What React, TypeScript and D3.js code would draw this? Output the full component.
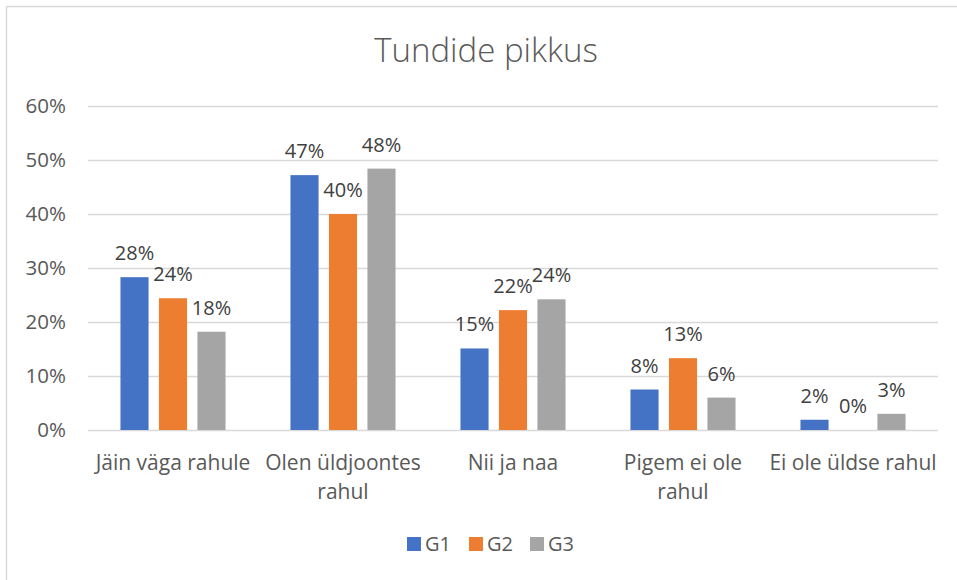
import React from "react";
import * as d3 from "d3";

const categories = ["Jäin väga rahule", "Olen üldjoontes rahul", "Nii ja naa", "Pigem ei ole rahul", "Ei ole üldse rahul"];
const categoryLines = [["Jäin väga rahule"], ["Olen üldjoontes", "rahul"], ["Nii ja naa"], ["Pigem ei ole", "rahul"], ["Ei ole üldse rahul"]];
const seriesNames = ["G1", "G2", "G3"];
const g1 = [28.3, 47.2, 15.1, 7.5, 1.9];
const g2 = [24.4, 40.0, 22.2, 13.3, 0];
const g3 = [18.2, 48.4, 24.2, 6.0, 3.0];
const colors = ["#4472C4", "#ED7D31", "#A5A5A5"];
const yTicks = [0, 10, 20, 30, 40, 50, 60];

const W = 957, H = 580;
const FONT = "'Open Sans', Lato, sans-serif";

export default function App() {
  const series = [g1, g2, g3];
  const x0 = d3.scaleBand<string>().domain(categories).range([88, 938]).paddingInner(0.382).paddingOuter(0.191);
  const x1 = d3.scaleBand<string>().domain(seriesNames).range([0, x0.bandwidth()]).paddingInner(0.27);
  const y = d3.scaleLinear().domain([0, 60]).range([430, 106]);

  return (
    <svg width={W} height={H} style={{ position: "absolute", left: 0, top: 0, background: "#fff" }} fontFamily={FONT}>
      <rect x={0} y={0} width={W} height={H} fill="#fff" />
      <line x1={6.5} y1={6.5} x2={W} y2={6.5} stroke="#d9d9d9" strokeWidth={1.5} />
      <line x1={6.5} y1={6.5} x2={6.5} y2={H} stroke="#d9d9d9" strokeWidth={1.5} />
      <text x={486} y={62} textAnchor="middle" fontSize={33} fill="#595959" fontWeight={300}>Tundide pikkus</text>
      {yTicks.map((t) => (
        <g key={t}>
          <line x1={88} x2={938} y1={y(t) + 0.5} y2={y(t) + 0.5} stroke="#d9d9d9" strokeWidth={1.3} />
          <text x={66} y={y(t) + 7} textAnchor="end" fontSize={20.5} fill="#595959">{t}%</text>
        </g>
      ))}
      {categories.map((c, ci) => (
        <g key={c}>
          {series.map((s, si) => {
            const bx = (x0(c) as number) + (x1(seriesNames[si]) as number);
            const v = s[ci];
            return (
              <g key={si}>
                <rect x={bx} y={y(v)} width={x1.bandwidth()} height={430 - y(v)} fill={colors[si]} />
                <text x={bx + x1.bandwidth() / 2} y={y(v) - 17} textAnchor="middle" fontSize={20} fill="#404040">{Math.round(v)}%</text>
              </g>
            );
          })}
          {categoryLines[ci].map((ln, li) => (
            <text key={li} x={(x0(c) as number) + x0.bandwidth() / 2} y={470 + li * 29} textAnchor="middle" fontSize={21} fill="#595959">{ln}</text>
          ))}
        </g>
      ))}
      {seriesNames.map((n, i) => {
        const lx = [407, 469, 530][i];
        return (
          <g key={n}>
            <rect x={lx} y={537} width={14} height={14} fill={colors[i]} />
            <text x={lx + 18} y={551} fontSize={20} fill="#595959">{n}</text>
          </g>
        );
      })}
    </svg>
  );
}
